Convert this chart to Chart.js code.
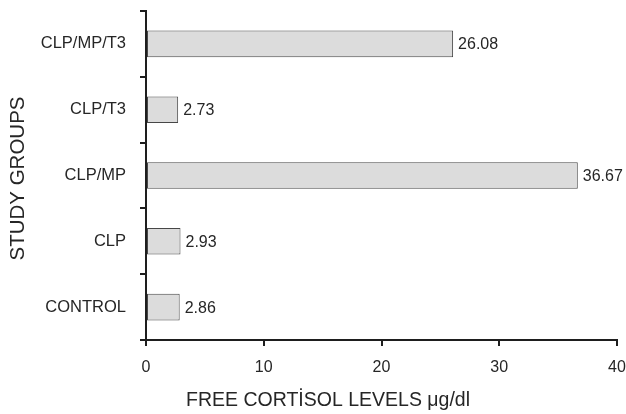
<!DOCTYPE html>
<html>
<head>
<meta charset="utf-8">
<script src="https://cdn.jsdelivr.net/npm/chart.js@4/dist/chart.umd.min.js"></script>
<style>
html,body{margin:0;padding:0;background:#fff;}
#wrap{width:626px;height:414px;position:relative;}
</style>
</head>
<body>
<div id="wrap"><canvas id="c" width="626" height="414"></canvas></div>
<script>
const categories = ['CLP/MP/T3', 'CLP/T3', 'CLP/MP', 'CLP', 'CONTROL'];
const cortisolValues = [26.08, 2.73, 36.67, 2.93, 2.86];
const xTicks = [0, 10, 20, 30, 40];
const xTitle = 'FREE CORTİSOL LEVELS μg/dl';
const yTitle = 'STUDY GROUPS';

const FONT = "'Liberation Sans', Arial, sans-serif";
const TXT = '#262626';
const AX = '#1e1e1e';

const labelsPlugin = {
  id: 'labelsPlugin',
  afterDatasetsDraw(chart) {
    const ctx = chart.ctx;
    const meta = chart.getDatasetMeta(0);
    ctx.save();
    ctx.font = '16px ' + FONT;
    ctx.fillStyle = TXT;
    ctx.textAlign = 'left';
    ctx.textBaseline = 'middle';
    meta.data.forEach((bar, i) => {
      ctx.fillText(cortisolValues[i].toFixed(2), bar.x + 5, bar.y + 1);
    });
    ctx.restore();
  },
  afterDraw(chart) {
    const ctx = chart.ctx;
    const xs = chart.scales.x, ys = chart.scales.y;
    ctx.save();
    ctx.fillStyle = TXT;
    ctx.font = '19.5px ' + FONT;
    ctx.textAlign = 'left';
    ctx.textBaseline = 'middle';
    ctx.fillText(xTitle, xs.left + 40, 401);
    ctx.translate(18, (ys.top + ys.bottom) / 2 + 3);
    ctx.rotate(-Math.PI / 2);
    ctx.textAlign = 'center';
    ctx.font = '20.5px ' + FONT;
    ctx.fillText(yTitle, 0, 0);
    ctx.restore();
  }
};

new Chart(document.getElementById('c'), {
  type: 'bar',
  data: {
    labels: categories,
    datasets: [{
      data: cortisolValues,
      backgroundColor: '#dcdcdc',
      borderColor: '#474747',
      borderWidth: 1,
      borderSkipped: false,
      barPercentage: 0.405,
      categoryPercentage: 1
    }]
  },
  options: {
    indexAxis: 'y',
    responsive: false,
    animation: false,
    devicePixelRatio: 1,
    layout: { padding: { top: 11, right: 9, left: 0, bottom: 0 } },
    plugins: { legend: { display: false }, tooltip: { enabled: false } },
    scales: {
      x: {
        min: 0, max: 40,
        afterBuildTicks: s => { s.ticks = xTicks.map(v => ({ value: v })); },
        afterFit: s => { s.height = 74; s.paddingLeft = 0; s.paddingRight = 0; },
        ticks: { font: { size: 16, family: FONT }, color: TXT, padding: 12 },
        grid: { drawOnChartArea: false, drawTicks: true, tickLength: 6, color: AX, lineWidth: 2 },
        border: { color: AX, width: 2 }
      },
      y: {
        afterFit: s => { s.width = 146; s.paddingTop = 0; s.paddingBottom = 0; },
        ticks: { font: { size: 16.5, family: FONT }, color: TXT, padding: 14 },
        grid: { offset: true, drawOnChartArea: false, drawTicks: true, tickLength: 6, color: AX, lineWidth: 2 },
        border: { color: AX, width: 2 }
      }
    }
  },
  plugins: [labelsPlugin]
});
</script>
</body>
</html>
